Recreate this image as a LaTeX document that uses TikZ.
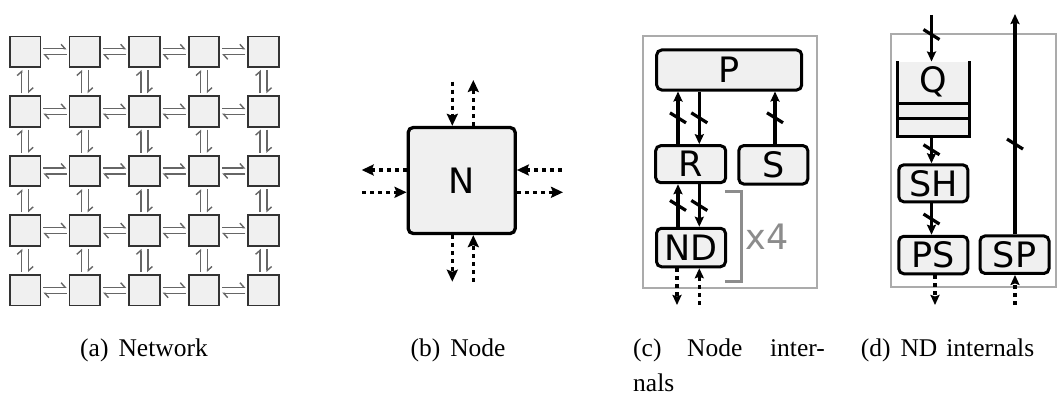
\documentclass[tikz,border=0pt]{standalone}
\usepackage{fontspec}
\setmainfont{Liberation Serif}
\setsansfont{DejaVu Sans}
\usetikzlibrary{arrows.meta,calc}
\definecolor{boxfill}{HTML}{F0F0F0}
\begin{document}
\begin{tikzpicture}[x=1pt,y=-1pt,
  netbox/.style={draw=black!80, line width=1.8pt, fill=boxfill, minimum size=30.5pt, inner sep=0pt},
  harp/.style={draw=black!60, line width=1.4pt, -{Straight Barb[harpoon,length=4pt,width=9pt]}},
  blk/.style={draw, line width=3pt, rounded corners=5pt, fill=boxfill, inner sep=0pt,
    font=\sffamily\fontsize{35}{40}\selectfont},
  lbl/.style={inner sep=0pt, font=\sffamily\fontsize{35}{40}\selectfont},
  sarr/.style={line width=3.3pt, -{Stealth[length=10pt,width=9pt,inset=1.5pt]}},
  darr/.style={line width=3.3pt, dash pattern=on 4pt off 4pt, -{Stealth[length=10pt,width=9pt,inset=1.5pt]}},
  barr/.style={line width=3.5pt, dash pattern=on 4pt off 4pt, -{Stealth[length=12pt,width=11pt,inset=2pt]}},
  slashln/.style={line width=3.2pt},
  frm/.style={draw=black!33, line width=2pt},
  brk/.style={draw=black!45, line width=2.5pt},
  capt/.style={font=\fontsize{25.5}{30}\selectfont, anchor=base, inner sep=0pt}
]
\useasboundingbox (0,0) rectangle (1063,396);

% ---------- (a) Network ----------
\foreach \i in {0,...,4} \foreach \j in {0,...,4}
  \node[netbox] (n\i\j) at ({25.2+59.6*\i},{51.8+59.6*\j}) {};
\foreach \i in {0,...,3} \foreach \j in {0,...,4} {
  \pgfmathtruncatemacro\k{\i+1}
  \draw[harp] ([xshift=2pt,yshift=3pt]n\i\j.east) -- ([xshift=-2pt,yshift=3pt]n\k\j.west);
  \draw[harp] ([xshift=-2pt,yshift=-3pt]n\k\j.west) -- ([xshift=2pt,yshift=-3pt]n\i\j.east);
}
\foreach \i in {0,...,4} \foreach \j in {0,...,3} {
  \pgfmathtruncatemacro\k{\j+1}
  \draw[harp] ([xshift=-3.5pt,yshift=2pt]n\i\k.north) -- ([xshift=-3.5pt,yshift=-2pt]n\i\j.south);
  \draw[harp] ([xshift=3.5pt,yshift=-2pt]n\i\j.south) -- ([xshift=3.5pt,yshift=2pt]n\i\k.north);
}

% ---------- (b) Node ----------
\node[blk, line width=3.3pt, minimum width=107pt, minimum height=106pt] (N) at (461.7,180.5) {N};
\coordinate (bt1) at (452.3,81.7);
\coordinate (bt2) at (473.3,80);
\coordinate (bl1) at (361.7,170);
\coordinate (bl2) at (362,192.3);
\coordinate (br1) at (561.7,170);
\coordinate (br2) at (563,192.3);
\coordinate (bb1) at (452.3,281.7);
\coordinate (bb2) at (473.3,281.7);
\draw[barr] (bt1) -- (bt1 |- N.north);
\draw[barr] (bt2 |- N.north) -- (bt2);
\draw[barr] (N.west |- bl1) -- (bl1);
\draw[barr] (bl2) -- (N.west |- bl2);
\draw[barr] (br1) -- (N.east |- br1);
\draw[barr] (N.east |- br2) -- (br2);
\draw[barr] (N.south -| bb1) -- (bb1);
\draw[barr] (bb2) -- (N.south -| bb2);

% ---------- (c) Node internals ----------
\draw[frm] (643.3,35.7) rectangle (816.7,288.3);
\node[blk, minimum width=145pt, minimum height=40pt] (P) at (729.2,70) {P};
\node[blk, minimum width=70pt, minimum height=37pt] (R) at (690.7,164.2) {R};
\node[blk, minimum width=69pt, minimum height=38.5pt] (S) at (773.3,164.8) {S};
\node[blk, minimum width=69pt, minimum height=38.5pt] (ND) at (691,247.5) {ND};
\coordinate (cL) at (678,0);
\coordinate (cR) at (699.3,0);
\coordinate (cS) at (775,0);
\draw[sarr] (R.north -| cL) -- coordinate (s1) (P.south -| cL);
\draw[sarr] (P.south -| cR) -- coordinate (s2) (R.north -| cR);
\draw[sarr] (ND.north -| cL) -- coordinate (s3) (R.south -| cL);
\draw[sarr] (R.south -| cR) -- coordinate (s4) (ND.north -| cR);
\draw[sarr] (S.north -| cS) -- coordinate (s5) (P.south -| cS);
\coordinate (cd1) at (677,305);
\coordinate (cd2) at (699.3,305);
\draw[darr] (ND.south -| cd1) -- (cd1);
\draw[darr] (cd2) -- (ND.south -| cd2);
\draw[brk] (725,191.7) -- (741.7,191.7) -- (741.7,281.7) -- (725,281.7);
\node[lbl, text=black!45] (x4) at (767,236.7) {x4};

% ---------- (d) ND internals ----------
\draw[frm] (891,34.3) rectangle (1056,287.3);
\node[fill=boxfill, minimum width=71.6pt, minimum height=74.3pt, inner sep=0pt] (Qb) at (933.5,98.85) {};
\draw[line width=3pt] (Qb.north west) -- (Qb.south west) -- (Qb.south east) -- (Qb.north east);
\draw[line width=3pt] ([yshift=32.7pt]Qb.south west) -- ([yshift=32.7pt]Qb.south east);
\draw[line width=3pt] ([yshift=17.7pt]Qb.south west) -- ([yshift=17.7pt]Qb.south east);
\node[lbl] (Q) at (933.5,82) {Q};
\node[blk, minimum width=69pt, minimum height=37pt] (SH) at (933.3,183.3) {SH};
\node[blk, minimum width=69pt, minimum height=37.5pt] (PS) at (933.3,255) {PS};
\node[blk, minimum width=69pt, minimum height=37.5pt] (SP) at (1014.5,254.7) {SP};
\coordinate (din) at (931.5,15);
\coordinate (dsp) at (1015,14);
\draw[sarr] (din) -- coordinate[pos=.42] (s6) (Qb.north -| din);
\draw[sarr] (Qb.south -| din) -- coordinate (s7) (SH.north -| din);
\draw[sarr] (SH.south -| din) -- coordinate (s8) (PS.north -| din);
\draw[sarr] (SP.north -| dsp) -- coordinate[pos=.41] (s9) (dsp);
\coordinate (dd1) at (935,305);
\coordinate (dd2) at (1015,305);
\draw[darr] (PS.south -| dd1) -- (dd1);
\draw[darr] (dd2) -- (SP.south -| dd2);

% slashes on buses
\foreach \s in {s1,s2,s3,s4,s5,s6,s7,s8,s9}
  \draw[slashln] ([shift={(-8pt,5pt)}]\s) -- ([shift={(8pt,-5pt)}]\s);

% ---------- captions ----------
\node[capt] (ca) at (144,356.7) {(a)\hspace{10pt}Network};
\node[capt] (cb) at (458,356.7) {(b)\hspace{10pt}Node};
\node[capt, anchor=base west] (cc1) at (633,356.7) {(c)};
\node[capt, anchor=base west] (cc2) at (687,356.7) {Node};
\node[capt, anchor=base east] (cc3) at (825,356.7) {inter-};
\node[capt, anchor=base west] (cc4) at (633,391.7) {nals};
\node[capt] (cd) at (947.5,356.7) {(d)\hspace{10pt}ND\hspace{9pt}internals};
\end{tikzpicture}
\end{document}
